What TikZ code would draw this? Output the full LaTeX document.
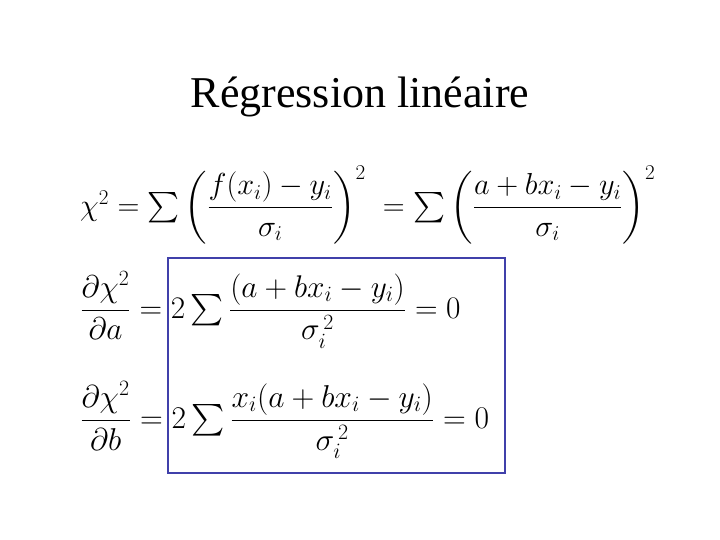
\documentclass[tikz,border=0pt]{standalone}
\usepackage{fontspec}
\setmainfont{Liberation Serif}
\usepackage{amsmath}
\usepackage{graphicx}
\begin{document}
\begin{tikzpicture}[x=1pt,y=-1pt,
  eq/.style={anchor=west,inner sep=0pt,font=\fontsize{26}{30}\selectfont},
  hl/.style={draw={rgb,255:red,64;green,64;blue,170},line width=2pt}]
\useasboundingbox (0,0) rectangle (720,540);
\node[font=\fontsize{44}{48}\selectfont] (title) at (360,97) {Régression linéaire};
\node[eq] (e1) at (80,205) {\scalebox{1.22}{$\chi^2=\sum\left(\dfrac{f(x_i)-y_i}{\sigma_i}\right)^{2}\;=\sum\left(\dfrac{a+bx_i-y_i}{\sigma_i}\right)^{2}$}};
\node[eq] (e2) at (80,310) {\scalebox{1.26}{$\dfrac{\partial\chi^2}{\partial a}=2\sum\dfrac{(a+bx_i-y_i)}{\sigma_i^{\,2}}=0$}};
\node[eq] (e3) at (80,420) {\scalebox{1.27}{$\dfrac{\partial\chi^2}{\partial b}=2\sum\dfrac{x_i(a+bx_i-y_i)}{\sigma_i^{\,2}}=0$}};
\draw[hl] (168,258) rectangle (505,473);
\end{tikzpicture}
\end{document}
